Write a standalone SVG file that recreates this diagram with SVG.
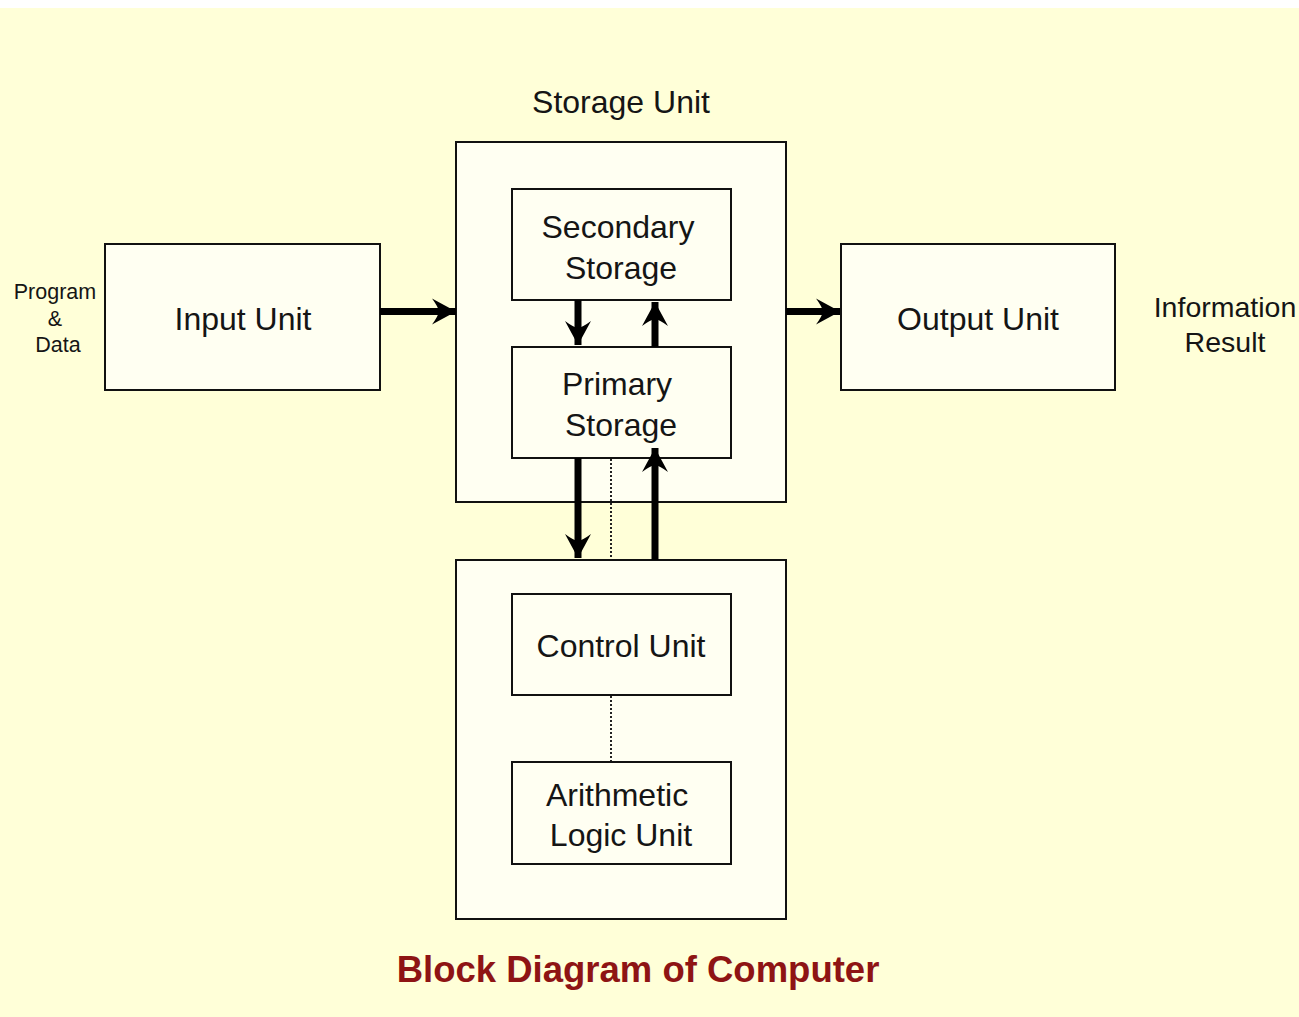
<svg xmlns="http://www.w3.org/2000/svg" width="1299" height="1017" viewBox="0 0 1299 1017">
  <style>
    .box { fill: #FFFFF2; stroke: #111; stroke-width: 2; }
    .lbl { font-family: "Liberation Sans", Arial, sans-serif; font-size: 32px; fill: #151515; text-anchor: middle; }
    .side { font-family: "Liberation Sans", Arial, sans-serif; fill: #151515; text-anchor: middle; }
    .flow { stroke: #000; stroke-width: 7; fill: none; marker-end: url(#head); }
    .dots { stroke: #222; stroke-width: 2; stroke-dasharray: 2 2; fill: none; }
    .title { font-family: "Liberation Sans", Arial, sans-serif; font-weight: bold; font-size: 36.5px; fill: #8E1414; text-anchor: middle; }
  </style>
  <defs>
    <!-- swept solid arrowhead, fixed size regardless of shaft width -->
    <marker id="head" markerUnits="userSpaceOnUse" viewBox="-25 -14 26 28" refX="0" refY="0" markerWidth="26" markerHeight="28" orient="auto">
      <path d="M0,0 L-24,-13 Q-18,-5 -17,0 Q-18,5 -24,13 Z" fill="#000"/>
    </marker>
  </defs>

  <!-- page background -->
  <rect x="0" y="0" width="1299" height="1017" fill="#FFFFFF"/>
  <rect x="0" y="8" width="1299" height="1009" fill="#FFFFD8"/>

  <text class="lbl" x="621" y="113">Storage Unit</text>

  <g id="storage-unit">
    <rect class="box" x="456" y="142" width="330" height="360"/>
  </g>
  <g id="secondary-storage">
    <rect class="box" x="512" y="189" width="219" height="111"/>
    <text class="lbl" x="618" y="238">Secondary</text>
    <text class="lbl" x="621" y="279">Storage</text>
  </g>
  <g id="primary-storage">
    <rect class="box" x="512" y="347" width="219" height="111"/>
    <text class="lbl" x="617" y="395">Primary</text>
    <text class="lbl" x="621" y="436">Storage</text>
  </g>

  <g id="input-unit">
    <rect class="box" x="105" y="244" width="275" height="146"/>
    <text class="lbl" x="243" y="330">Input Unit</text>
  </g>
  <g id="program-data">
    <text class="side" font-size="21.5" x="55" y="299">Program</text>
    <text class="side" font-size="21.5" x="55" y="326">&amp;</text>
    <text class="side" font-size="21.5" x="58" y="352">Data</text>
  </g>

  <g id="output-unit">
    <rect class="box" x="841" y="244" width="274" height="146"/>
    <text class="lbl" x="978" y="330">Output Unit</text>
  </g>
  <g id="information-result">
    <text class="side" font-size="28.5" x="1225" y="317">Information</text>
    <text class="side" font-size="28.5" x="1225" y="352">Result</text>
  </g>

  <g id="cpu">
    <rect class="box" x="456" y="560" width="330" height="359"/>
  </g>
  <g id="control-unit">
    <rect class="box" x="512" y="594" width="219" height="101"/>
    <text class="lbl" x="621" y="657">Control Unit</text>
  </g>
  <g id="alu">
    <rect class="box" x="512" y="762" width="219" height="102"/>
    <text class="lbl" x="617" y="806">Arithmetic</text>
    <text class="lbl" x="621" y="846">Logic Unit</text>
  </g>

  <g id="connectors">
    <line class="flow" x1="380" y1="311.5" x2="456" y2="311.5"/>
    <line class="flow" x1="786" y1="311.5" x2="840" y2="311.5"/>
    <line class="flow" x1="578" y1="300" x2="578" y2="345"/>
    <line class="flow" x1="655" y1="347" x2="655" y2="302"/>
    <line class="flow" x1="578" y1="458" x2="578" y2="558"/>
    <line class="flow" x1="655" y1="560" x2="655" y2="448"/>
    <line class="dots" x1="611" y1="459" x2="611" y2="559"/>
    <line class="dots" x1="611" y1="696" x2="611" y2="761"/>
  </g>

  <text class="title" x="638" y="982">Block Diagram of Computer</text>
</svg>
